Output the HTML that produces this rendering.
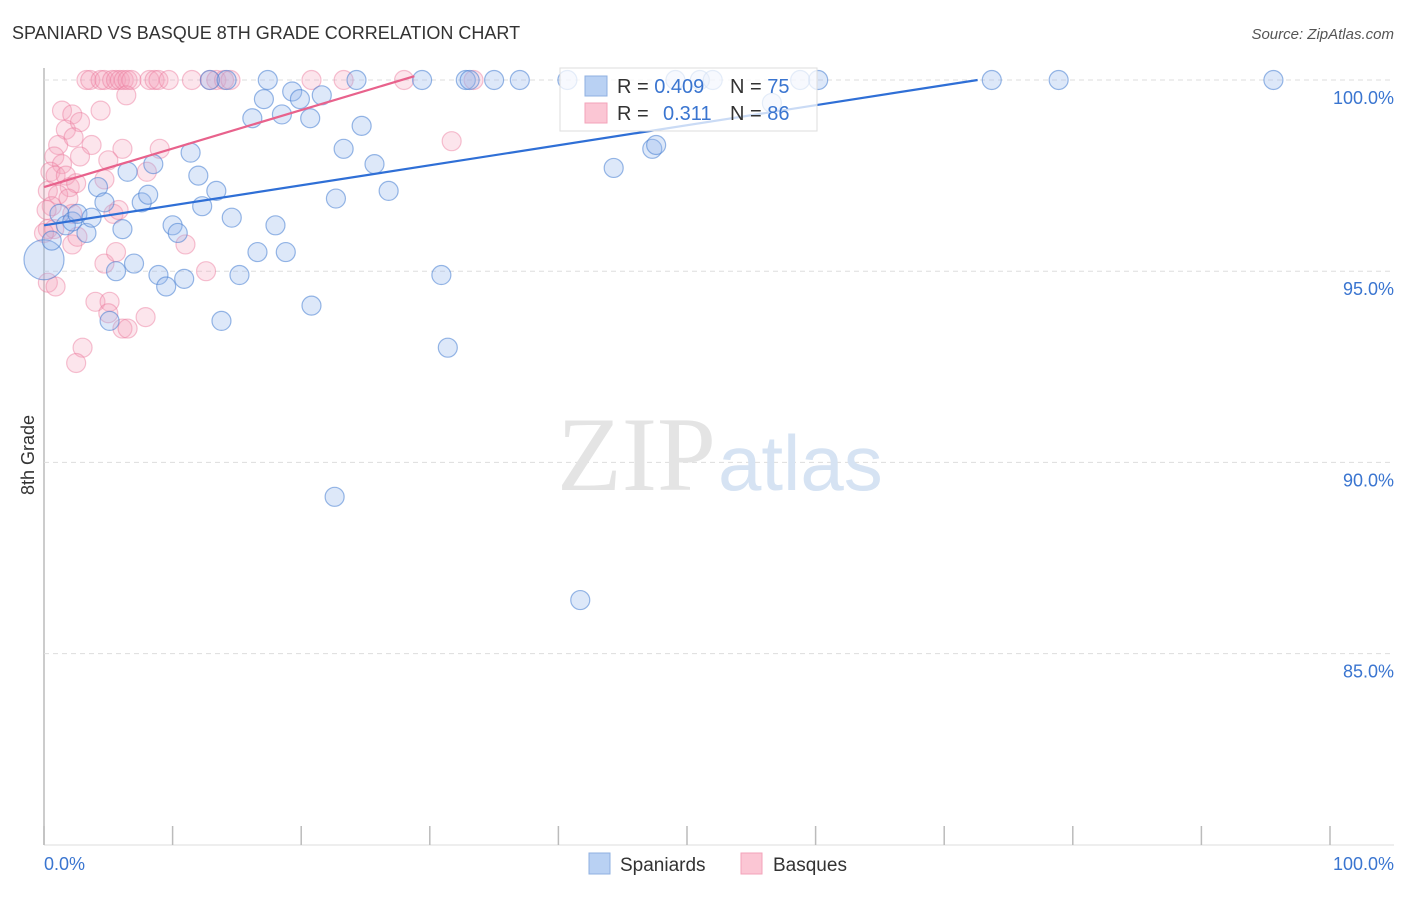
<!DOCTYPE html>
<html><head><meta charset="utf-8"><style>
body{margin:0;background:#fff;font-family:"Liberation Sans",sans-serif;}
</style></head><body>
<svg width="1406" height="892" xmlns="http://www.w3.org/2000/svg">
<text x="12" y="39" font-size="18" fill="#333">SPANIARD VS BASQUE 8TH GRADE CORRELATION CHART</text>
<text x="1394" y="39" font-size="15" fill="#555" text-anchor="end" font-style="italic">Source: ZipAtlas.com</text>
<g id="grid"></g>
<text x="716" y="490" font-size="106" fill="#e4e4e4" text-anchor="end" font-family="Liberation Serif">ZIP</text>
<text x="718" y="490" font-size="78" fill="#d6e3f3">atlas</text>
<g id="pts"></g>
<g id="lines"></g>
<text transform="translate(34,455) rotate(-90)" font-size="18" fill="#333" text-anchor="middle">8th Grade</text>
<text x="44" y="870" font-size="18" fill="#3a75d0">0.0%</text>
<text x="1394" y="870" font-size="18" fill="#3a75d0" text-anchor="end">100.0%</text>
<g>
<rect x="560" y="68" width="257" height="63" fill="#fff" fill-opacity="0.75" stroke="#ddd"/>
<rect x="585" y="76" width="22" height="20" fill="#b9d1f3" stroke="#8fb0e0"/>
<rect x="585" y="103" width="22" height="20" fill="#fbc6d4" stroke="#f3a3ba"/>
<text x="617" y="93" font-size="20" fill="#333">R = <tspan fill="#3a75d0">0.409</tspan><tspan x="730">N = </tspan><tspan fill="#3a75d0">75</tspan></text>
<text x="617" y="120" font-size="20" fill="#333">R = <tspan x="663" fill="#3a75d0">0.311</tspan><tspan x="730">N = </tspan><tspan fill="#3a75d0">86</tspan></text>
</g>
<g>
<rect x="589" y="853" width="21" height="21" fill="#b9d1f3" stroke="#8fb0e0"/>
<text x="620" y="871" font-size="19" fill="#333">Spaniards</text>
<rect x="741" y="853" width="21" height="21" fill="#fbc6d4" stroke="#f3a3ba"/>
<text x="773" y="871" font-size="19" fill="#333">Basques</text>
</g>
</svg>
<script>
const yTicks=[100,95,90,85];
const xTickCount=10;
const bluePts=[[0,95.3],[0.6,95.8],[1.2,96.5],[1.7,96.2],[2.2,96.3],[2.6,96.5],[3.3,96.0],[3.7,96.4],[4.2,97.2],[4.7,96.8],[5.1,93.7],[5.6,95.0],[6.1,96.1],[6.5,97.6],[7.0,95.2],[7.6,96.8],[8.1,97.0],[8.5,97.8],[8.9,94.9],[9.5,94.6],[10.0,96.2],[10.4,96.0],[10.9,94.8],[11.4,98.1],[12.0,97.5],[12.3,96.7],[12.9,100],[13.4,97.1],[13.8,93.7],[14.2,100],[14.6,96.4],[15.2,94.9],[16.2,99.0],[16.6,95.5],[17.1,99.5],[17.4,100],[18.0,96.2],[18.5,99.1],[18.8,95.5],[19.3,99.7],[19.9,99.5],[20.7,99.0],[20.8,94.1],[21.6,99.6],[22.7,96.9],[22.6,89.1],[23.3,98.2],[24.3,100],[24.7,98.8],[25.7,97.8],[26.8,97.1],[29.4,100],[30.9,94.9],[31.4,93.0],[32.8,100],[33.1,100],[35.0,100],[37.0,100],[40.7,100],[41.7,86.4],[44.3,97.7],[47.3,98.2],[47.6,98.3],[49.1,100],[51.0,100],[52.0,100],[56.6,99.4],[58.8,100],[60.2,100],[73.7,100],[78.9,100],[95.6,100]];
const pinkPts=[[3.3,100],[3.6,100],[4.4,100],[4.7,100],[5.3,100],[5.6,100],[5.9,100],[6.2,100],[6.5,100],[6.8,100],[8.2,100],[8.6,100],[8.9,100],[9.7,100],[11.5,100],[12.9,100],[13.4,100],[14.0,100],[14.5,100],[20.8,100],[23.3,100],[28.0,100],[33.4,100],[6.4,99.6],[1.4,99.2],[2.2,99.1],[4.4,99.2],[1.7,98.7],[2.8,98.9],[1.1,98.3],[2.3,98.5],[3.7,98.3],[6.1,98.2],[9.0,98.2],[0.8,98.0],[1.4,97.8],[2.8,98.0],[5.0,97.9],[8.0,97.6],[0.5,97.6],[0.9,97.5],[1.7,97.5],[2.0,97.2],[2.5,97.3],[4.7,97.4],[0.3,97.1],[1.1,97.0],[1.9,96.9],[0.6,96.7],[2.2,96.5],[5.4,96.5],[5.8,96.6],[0.3,96.1],[0.8,96.1],[2.2,95.7],[2.6,95.9],[11.0,95.7],[4.7,95.2],[5.6,95.5],[12.6,95.0],[0.3,94.7],[0.9,94.6],[4.0,94.2],[5.1,94.2],[5.0,93.9],[6.1,93.5],[6.5,93.5],[7.9,93.8],[3.0,93.0],[2.5,92.6],[31.7,98.4],[0,96.0],[0.2,96.6]];
const blueTrend=[[0,96.2],[72.6,100]];
const pinkTrend=[[0,97.2],[28.8,100.1]];
const X0=44,X1=1330,Y100=80,PX5=191.2;
const sx=v=>X0+(X1-X0)*v/100;
const sy=v=>Y100+(100-v)*PX5/5;
const NS="http://www.w3.org/2000/svg";
function mk(t,a,p){const e=document.createElementNS(NS,t);for(const k in a)e.setAttribute(k,a[k]);p.appendChild(e);return e;}
const grid=document.getElementById('grid');
mk('line',{x1:X0,y1:68,x2:X0,y2:845,stroke:'#bbb','stroke-width':1.5},grid);
mk('line',{x1:X0,y1:845,x2:1394,y2:845,stroke:'#ddd'},grid);
yTicks.forEach(v=>{
 const l=mk('line',{x1:X0,y1:sy(v),x2:1394,y2:sy(v),stroke:'#ddd','stroke-dasharray':'5,4'},grid);
 
 
 const t=mk('text',{x:1394,y:sy(v)+24,'font-size':18,fill:'#3a75d0','text-anchor':'end'},grid);
 t.textContent=v.toFixed(1)+'%';
 
 
});
for(let i=0;i<=xTickCount;i++){
 const x=sx(i*100/xTickCount);
 const l=mk('line',{x1:x,y1:826,x2:x,y2:845,stroke:'#bbb','stroke-width':1.5},grid);
 
 
}
const pts=document.getElementById('pts');
pinkPts.forEach(p=>{const c=mk('circle',{cx:sx(p[0]),cy:sy(p[1]),r:9.5,fill:'rgba(245,160,185,0.28)',stroke:'rgba(235,120,155,0.45)','stroke-width':1.2},pts);
 
 });
bluePts.forEach((p,i)=>{const c=mk('circle',{cx:sx(p[0]),cy:sy(p[1]),r:i===0?20:9.5,fill:'rgba(150,185,235,0.32)',stroke:'rgba(70,125,210,0.55)','stroke-width':1.2},pts);
 
 });
const lines=document.getElementById('lines');
const bl=mk('line',{x1:sx(blueTrend[0][0]),y1:sy(blueTrend[0][1]),x2:sx(blueTrend[1][0]),y2:sy(blueTrend[1][1]),stroke:'#2f6fd6','stroke-width':2.2},lines);


const pl=mk('line',{x1:sx(pinkTrend[0][0]),y1:sy(pinkTrend[0][1]),x2:sx(pinkTrend[1][0]),y2:sy(pinkTrend[1][1]),stroke:'#e8628c','stroke-width':2.2},lines);


</script>
</body></html>
